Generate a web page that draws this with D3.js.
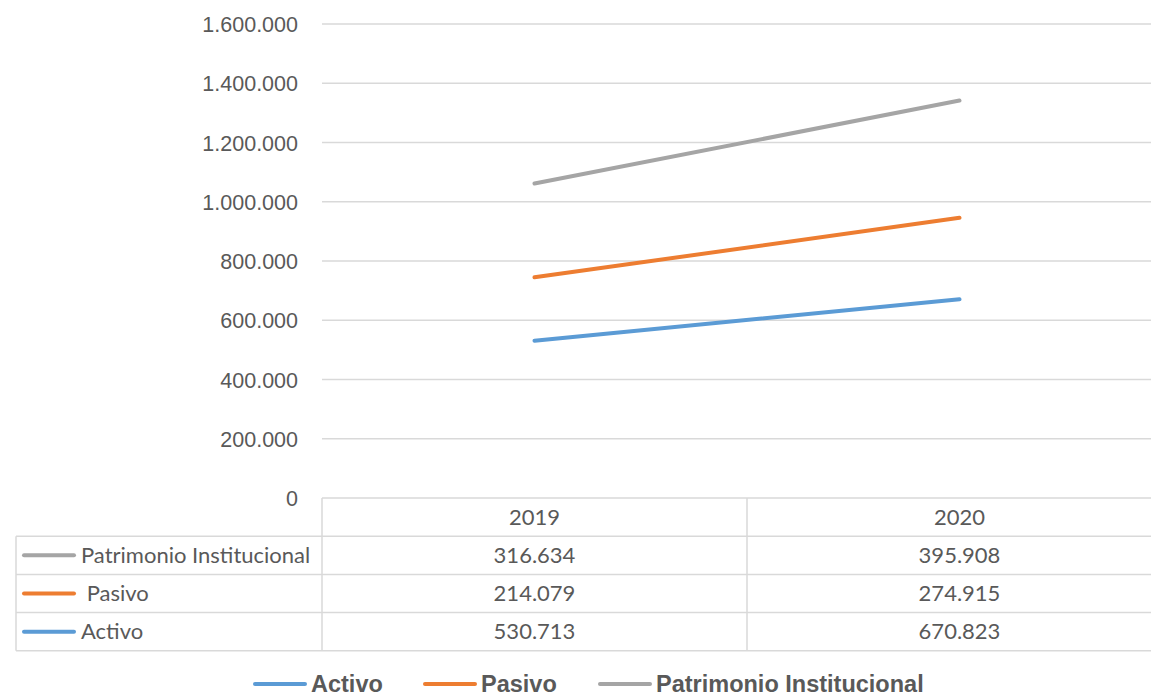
<!DOCTYPE html>
<html>
<head>
<meta charset="utf-8">
<script src="https://cdn.jsdelivr.net/npm/d3@7"></script>
<style>
  body { margin: 0; background: #fff; }
  svg { display: block; font-family: Lato, "Open Sans", sans-serif; }
  .tick text { fill: #595959; font-size: 21.5px; }
  .cell { fill: #595959; font-size: 22px; white-space: pre; }
  .leg { fill: #595959; font-size: 23.5px; font-weight: bold; font-family: "Liberation Sans Narrow", "Liberation Sans", sans-serif; }
</style>
</head>
<body>
<svg width="1151" height="696"></svg>
<script>
'use strict';

var categories = ["2019", "2020"];
var activo = [530713, 670823];
var pasivo = [214079, 274915];
var patrimonio = [316634, 395908];
var yTicks = [0, 200000, 400000, 600000, 800000, 1000000, 1200000, 1400000, 1600000];

var series = [
    {key: "Activo", label: "Activo", values: activo, color: "#5B9BD5"},
    {key: "Pasivo", label: " Pasivo", values: pasivo, color: "#ED7D31"},
    {key: "Patrimonio", label: "Patrimonio Institucional", values: patrimonio, color: "#A5A5A5"}
];

var dibujar = function() {
    var svg = d3.select("svg");
    var plotLeft = 322, plotRight = 1172, plotTop = 24, plotBottom = 498;
    var rowH = 38.2;

    var locale = d3.formatLocale({decimal: ",", thousands: ".", grouping: [3], currency: ["", ""]});
    var fmt = locale.format(",d");

    // valores apilados
    var rows = categories.map(function(c, i) {
        var r = {cat: c};
        series.forEach(function(s) { r[s.key] = s.values[i]; });
        return r;
    });
    var stacked = d3.stack().keys(series.map(function(s) { return s.key; }))(rows);

    var x = d3.scaleBand().domain(categories).range([plotLeft, plotRight]);
    var y = d3.scaleLinear().domain([0, 1600000]).range([plotBottom, plotTop]);

    // grid
    svg.append("g").selectAll("line").data(yTicks.slice(1)).enter().append("line")
        .attr("x1", plotLeft).attr("x2", plotRight)
        .attr("y1", function(d) { return y(d); }).attr("y2", function(d) { return y(d); })
        .attr("stroke", "#d9d9d9").attr("stroke-width", 1.3);

    var yAxis = svg.append("g")
        .attr("transform", "translate(298,0)")
        .call(d3.axisLeft(y).tickValues(yTicks).tickSize(0).tickPadding(0).tickFormat(function(d) { return fmt(d); }));
    yAxis.select(".domain").remove();
    yAxis.selectAll(".tick text").attr("dy", "0.35em");

    // lineas
    var line = d3.line()
        .x(function(d) { return x(d.data.cat) + x.bandwidth() / 2; })
        .y(function(d) { return y(d[1]); });

    svg.append("g").selectAll("path").data(stacked).enter().append("path")
        .attr("d", line)
        .attr("fill", "none")
        .attr("stroke", function(d, i) { return series[i].color; })
        .attr("stroke-width", 4)
        .attr("stroke-linecap", "round");

    // tabla de datos
    var tbl = svg.append("g");
    var gridC = "#d9d9d9";
    var tableRows = series.slice().reverse();
    var tableLeft = 16;
    var tableBottom = plotBottom + rowH * (tableRows.length + 1);

    var hline = function(x1, x2, yy) {
        tbl.append("line").attr("x1", x1).attr("x2", x2).attr("y1", yy).attr("y2", yy)
            .attr("stroke", gridC).attr("stroke-width", 1.5);
    };
    var vline = function(xx, y1, y2) {
        tbl.append("line").attr("x1", xx).attr("x2", xx).attr("y1", y1).attr("y2", y2)
            .attr("stroke", gridC).attr("stroke-width", 1.5);
    };

    hline(plotLeft, plotRight, plotBottom);
    tableRows.forEach(function(s, i) { hline(tableLeft, plotRight, plotBottom + rowH * (i + 1)); });
    hline(tableLeft, plotRight, tableBottom);
    vline(tableLeft, plotBottom + rowH, tableBottom);

    categories.forEach(function(c) {
        vline(x(c), plotBottom, tableBottom);
        tbl.append("text").attr("class", "cell")
            .attr("x", x(c) + x.bandwidth() / 2).attr("y", plotBottom + rowH / 2)
            .attr("dy", "0.35em").attr("text-anchor", "middle").text(c);
    });

    tableRows.forEach(function(s, i) {
        var yc = plotBottom + rowH * (i + 1) + rowH / 2;
        tbl.append("line").attr("x1", 24).attr("x2", 74).attr("y1", yc).attr("y2", yc)
            .attr("stroke", s.color).attr("stroke-width", 4).attr("stroke-linecap", "round");
        tbl.append("text").attr("class", "cell").attr("x", 81).attr("y", yc)
            .attr("dy", "0.35em").text(s.label);
        categories.forEach(function(c, j) {
            tbl.append("text").attr("class", "cell")
                .attr("x", x(c) + x.bandwidth() / 2).attr("y", yc)
                .attr("dy", "0.35em").attr("text-anchor", "middle").text(fmt(s.values[j]));
        });
    });

    // leyenda
    var legX = [255, 425, 600];
    var leg = svg.append("g");
    series.forEach(function(s, i) {
        leg.append("line").attr("x1", legX[i]).attr("x2", legX[i] + 50).attr("y1", 684).attr("y2", 684)
            .attr("stroke", s.color).attr("stroke-width", 4).attr("stroke-linecap", "round");
        leg.append("text").attr("class", "leg").attr("x", legX[i] + 56).attr("y", 684)
            .attr("dy", "0.32em").text(s.label.trim());
    });
};

dibujar();
</script>
</body>
</html>
